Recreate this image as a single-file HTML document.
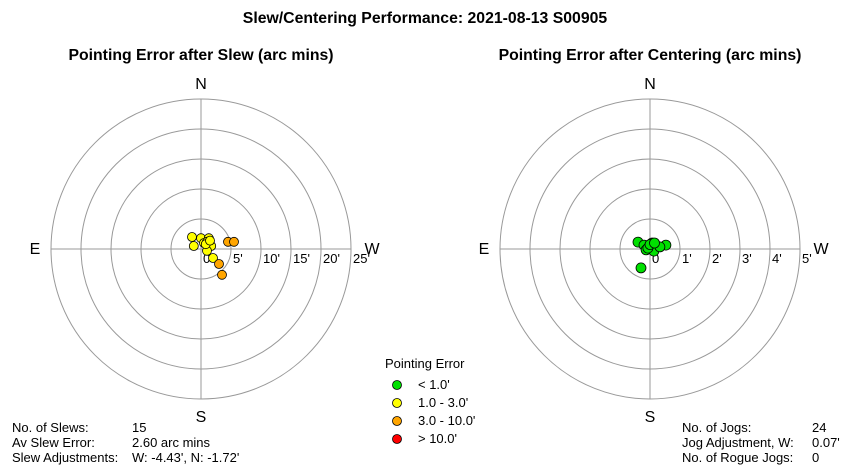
<!DOCTYPE html>
<html><head><meta charset="utf-8"><style>
body{margin:0;background:#fff;font-family:"Liberation Sans",Arial,sans-serif}
svg text{font-family:"Liberation Sans",Arial,sans-serif}
</style></head><body>
<svg id="c" width="850" height="470" xmlns="http://www.w3.org/2000/svg">
<text x="425" y="23" text-anchor="middle" font-size="15.8" font-weight="bold">Slew/Centering Performance: 2021-08-13 S00905</text>
<text x="201" y="60" text-anchor="middle" font-size="15.8" font-weight="bold">Pointing Error after Slew (arc mins)</text>
<text x="650" y="60" text-anchor="middle" font-size="15.8" font-weight="bold">Pointing Error after Centering (arc mins)</text>
<g id="L"></g><g id="R"></g>
<g font-size="13">
<text x="385" y="368">Pointing Error</text>
<circle cx="397" cy="385" r="4.5" fill="#00e000" stroke="#000" stroke-width="0.8"/><text x="418" y="389">&lt; 1.0'</text>
<circle cx="397" cy="403" r="4.5" fill="#ffff00" stroke="#000" stroke-width="0.8"/><text x="418" y="407">1.0 - 3.0'</text>
<circle cx="397" cy="421" r="4.5" fill="#ffa500" stroke="#000" stroke-width="0.8"/><text x="418" y="425">3.0 - 10.0'</text>
<circle cx="397" cy="439" r="4.5" fill="#ff0000" stroke="#000" stroke-width="0.8"/><text x="418" y="443">&gt; 10.0'</text>
</g>
<g font-size="13">
<text x="12" y="432">No. of Slews:</text><text x="132" y="432">15</text>
<text x="12" y="447">Av Slew Error:</text><text x="132" y="447">2.60 arc mins</text>
<text x="12" y="462">Slew Adjustments:</text><text x="132" y="462">W: -4.43', N: -1.72'</text>
</g>
<g font-size="13">
<text x="682" y="432">No. of Jogs:</text><text x="812" y="432">24</text>
<text x="682" y="447">Jog Adjustment, W:</text><text x="812" y="447">0.07'</text>
<text x="682" y="462">No. of Rogue Jogs:</text><text x="812" y="462">0</text>
</g>
</svg>
<script>
const slewW=[-1.5,0,1.3,-1.2,0.5,1.7,1.0,2,1,0.8,1.5,4.5,5.5,3,3.5];
const slewN=[2,1.8,1.8,0.5,1,0.5,-0.3,-1.5,1.2,0.8,1.4,1.2,1.2,-2.5,-4.3];
const jogW=[-0.4,-0.2,0.07,0.23,0.53,-0.13,0.13,0.33,-0.3,-0.07,0,0.15];
const jogN=[0.23,0.13,0.2,0.1,0.13,-0.03,-0.07,0.07,-0.63,0.03,0.15,0.2];
const slewTicks=["0","5'","10'","15'","20'","25'"];
const jogTicks=["0","1'","2'","3'","4'","5'"];
const NS="http://www.w3.org/2000/svg";
function mk(p,t,a){const e=document.createElementNS(NS,t);for(const k in a)e.setAttribute(k,a[k]);p.appendChild(e);return e;}
function color(r){return r<1?"#00e000":r<3?"#ffff00":r<10?"#ffa500":"#ff0000";}
function polar(g,cx,cy,R,ticks,W,N,pr){
  const max=ticks.length-1;const step=parseFloat(ticks[1]);const scale=R/(max*step);
  for(let i=1;i<=max;i++){const c=mk(g,"circle",{cx:cx,cy:cy,r:R*i/max,fill:"none",stroke:"#999","stroke-width":1});
    
    }
  const a1=mk(g,"line",{x1:cx-R,y1:cy,x2:cx+R,y2:cy,stroke:"#999"});
  
  
  const a2=mk(g,"line",{x1:cx,y1:cy-R,x2:cx,y2:cy+R,stroke:"#999"});
  
  
  ticks.forEach((t,i)=>{const tx=mk(g,"text",{x:cx+R*i/max+2,y:cy+14,"font-size":13});tx.textContent=t;
    
    });
  [["N",cx,cy-R-10,"middle"],["S",cx,cy+R+23,"middle"],["E",cx-R-16,cy+5,"middle"],["W",cx+R+21,cy+5,"middle"]].forEach(d=>{
    const tx=mk(g,"text",{x:d[1],y:d[2],"font-size":16,"text-anchor":d[3]});tx.textContent=d[0];
    
    });
  W.forEach((w,i)=>{const n=N[i];const r=Math.hypot(w,n);
    const p=mk(g,"circle",{cx:cx+w*scale,cy:cy-n*scale,r:pr,fill:color(r),stroke:"#000","stroke-width":0.8});
    
    });
}
polar(document.getElementById("L"),201,249,150,slewTicks,slewW,slewN,4.5);
polar(document.getElementById("R"),650,249,150,jogTicks,jogW,jogN,5);
</script>
</body></html>
